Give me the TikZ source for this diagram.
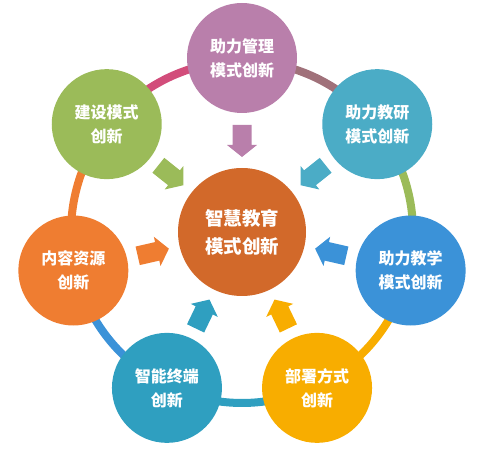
\documentclass[tikz,border=0pt]{standalone}
\usepackage{fontspec}
\newfontfamily\cjk{Noto Sans CJK SC}
\definecolor{cTop}{HTML}{B97FAB}
\definecolor{cGreen}{HTML}{9BBB59}
\definecolor{cTeal}{HTML}{4BACC6}
\definecolor{cCenter}{HTML}{D2692A}
\definecolor{cOrange}{HTML}{EF7D31}
\definecolor{cBlue}{HTML}{3B92D8}
\definecolor{cTealB}{HTML}{2F9FC0}
\definecolor{cYellow}{HTML}{F8AD00}
\definecolor{arcPink}{HTML}{D24D7B}
\definecolor{arcMauve}{HTML}{A0717A}
\tikzset{
  outer/.style={circle, minimum size=110pt, inner sep=0pt, fill=#1, text=white,
    align=center, font=\cjk\bfseries\fontsize{16}{24}\selectfont},
  hub/.style={circle, minimum size=128pt, inner sep=0pt, fill=cCenter, text=white,
    align=center, font=\cjk\bfseries\fontsize{18.5}{28}\selectfont},
  ringarc/.style={draw=#1, line width=8pt},
  blockarrow/.style={fill=#1}
}
\begin{document}
\begin{tikzpicture}[x=1pt,y=1pt]
\useasboundingbox (0,0) rectangle (482,450);
\coordinate (C) at (242,218);
% ring arcs
\foreach \a/\col in {90/arcPink, 141.43/cOrange, 192.86/cBlue, 244.29/cTealB, 295.71/cYellow, 347.14/cGreen, 38.57/arcMauve}{
  \draw[ringarc=\col] ([shift={(\a:171)}]C) arc[start angle=\a, delta angle=51.43, radius=171];
}
% arrows
\foreach \a/\col in {90/cTop, 141.43/cGreen, 192.86/cOrange, 244.29/cTealB, 295.71/cYellow, 347.14/cBlue, 38.57/cTeal}{
  \begin{scope}[shift={(C)}, rotate=\a]
    \fill[blockarrow=\col] (107,-9.5) -- (87,-9.5) -- (87,-15) -- (75,0) -- (87,15) -- (87,9.5) -- (107,9.5) -- cycle;
  \end{scope}
}
% circles
\node[hub] (hub) at (C) {智慧教育\\模式创新};
\node[outer=cTop] (mgmt) at ([shift={(90:174)}]C) {助力管理\\模式创新};
\node[outer=cGreen] (build) at ([shift={(141.43:173)}]C) {建设模式\\创新};
\node[outer=cOrange] (content) at ([shift={(192.86:173)}]C) {内容资源\\创新};
\node[outer=cTealB] (term) at ([shift={(244.29:173)}]C) {智能终端\\创新};
\node[outer=cYellow] (deploy) at ([shift={(295.71:173)}]C) {部署方式\\创新};
\node[outer=cBlue] (teach) at ([shift={(347.14:173)}]C) {助力教学\\模式创新};
\node[outer=cTeal] (research) at ([shift={(38.57:173)}]C) {助力教研\\模式创新};
\end{tikzpicture}
\end{document}
